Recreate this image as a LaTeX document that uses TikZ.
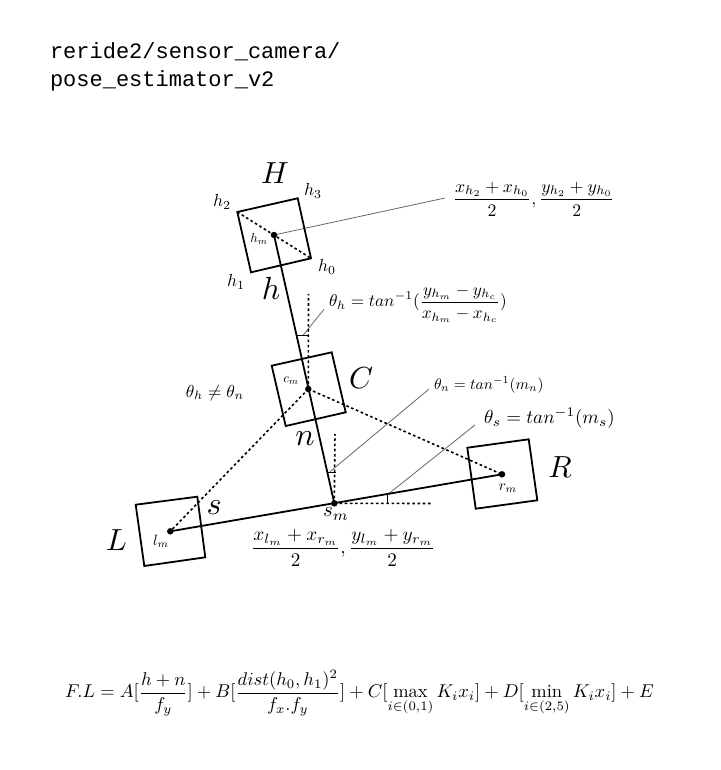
\documentclass[tikz,border=0pt]{standalone}
\usepackage{fontspec}
\setmonofont{Liberation Mono}
\tikzset{
  box/.style={draw=black,line width=1.8pt,line join=miter},
  solidline/.style={draw=black,line width=1.8pt},
  dots/.style={draw=black,line width=1.6pt,dash pattern=on 2.6pt off 2.6pt},
  leader/.style={draw=black!60,line width=0.8pt},
  tick/.style={draw=black,line width=1.4pt},
  dotmark/.style={circle,fill=black,inner sep=0pt,minimum size=6.5pt},
  lab/.style={inner sep=0pt,outer sep=0pt},
}
\begin{document}
\begin{tikzpicture}[x=1pt,y=-1pt]
\useasboundingbox[fill=white] (0,0) rectangle (720,770);
\node[lab,anchor=north west,align=left,font=\ttfamily\fontsize{22}{27.5}\selectfont] (title) at (50,43) {reride2/sensor\_camera/\\pose\_estimator\_v2};

% corners
\coordinate (h0) at (311,258.3); \coordinate (h1) at (251,272.3);
\coordinate (h2) at (237.3,212); \coordinate (h3) at (297.7,198.3);
\coordinate (c0) at (271.7,365.7); \coordinate (c1) at (331.7,352.3);
\coordinate (c2) at (345.7,412.3); \coordinate (c3) at (285.7,426);
\coordinate (l0) at (135.7,504.7); \coordinate (l1) at (197.3,496.7);
\coordinate (l2) at (205.3,557.3); \coordinate (l3) at (144.3,566);
\coordinate (r0) at (467.3,447.7); \coordinate (r1) at (528.7,439.3);
\coordinate (r2) at (537.3,500.3); \coordinate (r3) at (475.7,508.7);
\coordinate (hm) at (274,235); \coordinate (cm) at (308.3,389);
\coordinate (sm) at (334.3,503.3); \coordinate (lm) at (170.3,531.3);
\coordinate (rm) at (502,474.3);

% leaders
\coordinate (a1) at (445,198);
\coordinate (a2) at (324,309.3); \coordinate (a3) at (303.3,335);
\coordinate (a4) at (428.7,389.3); \coordinate (a5) at (330,471.7);
\coordinate (a6) at (475,425); \coordinate (a7) at (387,495);
\draw[leader] (hm) -- (a1);
\draw[leader] (a2) -- (a3);
\draw[leader] (a4) -- (a5);
\draw[leader] (a6) -- (a7);

% dotted
\coordinate (vh) at (308.5,294); \coordinate (vn) at (335,434); \coordinate (hs) at (431,503.5);
\draw[dots] (h2) -- (h0);
\draw[dots] (cm) -- (vh);
\draw[dots] (cm) -- (lm);
\draw[dots] (cm) -- (rm);
\draw[dots] (sm) -- (vn);
\draw[dots] (sm) -- (hs);

% boxes
\draw[box] (h0) -- (h1) -- (h2) -- (h3) -- cycle;
\draw[box] (c0) -- (c1) -- (c2) -- (c3) -- cycle;
\draw[box] (l0) -- (l1) -- (l2) -- (l3) -- cycle;
\draw[box] (r0) -- (r1) -- (r2) -- (r3) -- cycle;

% solid
\draw[solidline] (hm) -- (sm);
\draw[solidline] (lm) -- (rm);

% angle ticks
\coordinate (t1) at (297.3,335.7); \coordinate (t2) at (309,335.7);
\coordinate (t3) at (327.7,472.5); \coordinate (t4) at (336,472.5);
\coordinate (t5) at (387.7,495); \coordinate (t6) at (387.7,504);
\draw[tick] (t1) -- (t2);
\draw[tick] (t3) -- (t4);
\draw[tick] (t5) -- (t6);

\node[dotmark] (dh) at (hm) {}; \node[dotmark] (dc) at (cm) {};
\node[dotmark] (ds) at (sm) {}; \node[dotmark] (dl) at (lm) {};
\node[dotmark] (dr) at (rm) {};

% labels
\node[lab,scale=3.05] (LH) at (275,173) {$H$};
\node[lab,scale=3.05] (LC) at (361,378) {$C$};
\node[lab,scale=3.05] (LL) at (116.5,540) {$L$};
\node[lab,scale=3.05] (LR) at (560,467) {$R$};
\node[lab,scale=3.2] (Lh) at (271,288) {$h$};
\node[lab,scale=3.2] (Ln) at (305,439) {$n$};
\node[lab,scale=3.2] (Ls) at (214,508) {$s$};
\node[lab,scale=1.75] at (222,202) {$h_2$};
\node[lab,scale=1.75] at (313,191) {$h_3$};
\node[lab,scale=1.75] at (327,267) {$h_0$};
\node[lab,scale=1.75] at (236,282) {$h_1$};
\node[lab,scale=1.3] at (259,239) {$h_m$};
\node[lab,scale=1.3] at (291,381) {$c_m$};
\node[lab,scale=2.1] at (336,514) {$s_m$};
\node[lab,scale=1.5] at (161,541) {$l_m$};
\node[lab,scale=1.5] at (508,488) {$r_m$};
\node[lab,scale=1.74] at (215,393) {$\theta_h\neq\theta_n$};
\node[lab,scale=1.77,anchor=west] at (453,199) {$\displaystyle\frac{x_{h_2}+x_{h_0}}{2},\frac{y_{h_2}+y_{h_0}}{2}$};
\node[lab,scale=1.72,anchor=west] at (329,304) {$\displaystyle\theta_h=tan^{-1}(\frac{y_{h_m}-y_{h_c}}{x_{h_m}-x_{h_c}})$};
\node[lab,scale=1.54,anchor=west] at (434,385) {$\theta_n=tan^{-1}(m_n)$};
\node[lab,scale=1.9,anchor=west] at (484,418) {$\theta_s=tan^{-1}(m_s)$};
\node[lab,scale=1.92,anchor=west] at (251,548) {$\displaystyle\frac{x_{l_m}+x_{r_m}}{2},\frac{y_{l_m}+y_{r_m}}{2}$};
\node[lab,scale=1.85,anchor=west] at (65,693) {$\displaystyle F.L=A[\frac{h+n}{f_y}]+B[\frac{dist(h_0,h_1)^2}{f_x.f_y}]+C[\max_{i\in(0,1)}K_ix_i]+D[\min_{i\in(2,5)}K_ix_i]+E$};
\end{tikzpicture}
\end{document}
